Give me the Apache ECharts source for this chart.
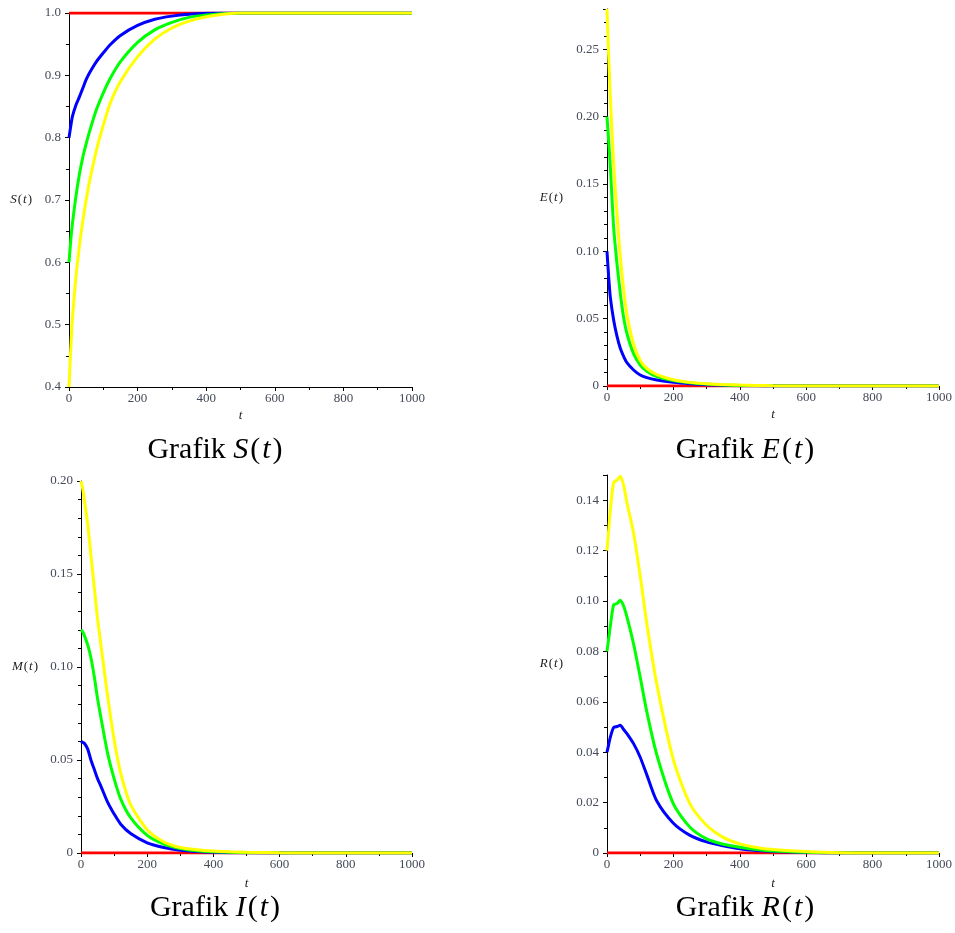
<!DOCTYPE html>
<html>
<head>
<meta charset="utf-8">
<title>Grafik S, E, I, R</title>
<script src="https://cdn.jsdelivr.net/npm/echarts@6/dist/echarts.min.js"></script>
<style>
  html, body { margin: 0; padding: 0; background: #fff; }
  #main { width: 955px; height: 933px; }
</style>
</head>
<body>
<div id="main"></div>
<script>
// waktu t (sama untuk semua kurva)
var tValues = [0, 5, 10, 20, 30, 40, 50, 60, 80, 100, 120, 150, 200, 250, 300, 350, 400, 450, 500, 600, 700, 800, 900, 1000];

// S(t)
var sRed    = [1,1,1,1,1,1,1,1,1,1,1,1,1,1,1,1,1,1,1,1,1,1,1,1];
var sBlue   = [0.80,0.818,0.834,0.852,0.865,0.879,0.893,0.904,0.922,0.936,0.949,0.964,0.98,0.99,0.995,0.998,0.9995,1,1,1,1,1,1,1];
var sGreen  = [0.60,0.635,0.662,0.705,0.74,0.768,0.79,0.81,0.845,0.872,0.895,0.922,0.953,0.973,0.985,0.993,0.997,0.999,1,1,1,1,1,1];
var sYellow = [0.40,0.46,0.51,0.575,0.625,0.665,0.70,0.73,0.78,0.82,0.855,0.89,0.93,0.958,0.976,0.987,0.994,0.998,1,1,1,1,1,1];

// E(t)
var eRed    = [0,0,0,0,0,0,0,0,0,0,0,0,0,0,0,0,0,0,0,0,0,0,0,0];
var eBlue   = [0.10,0.081,0.066,0.049,0.037,0.028,0.022,0.0173,0.0119,0.0082,0.0062,0.0045,0.0027,0.0016,0.0009,0.0005,0.0002,0.0001,0,0,0,0,0,0];
var eGreen  = [0.20,0.182,0.163,0.118,0.091,0.069,0.051,0.039,0.024,0.0156,0.011,0.007,0.004,0.0024,0.0014,0.0008,0.0004,0.0002,0.0001,0,0,0,0,0];
var eYellow = [0.28,0.245,0.215,0.165,0.128,0.096,0.072,0.053,0.031,0.019,0.013,0.0085,0.0047,0.0027,0.0016,0.0011,0.0007,0.0004,0.0002,0,0,0,0,0];

// M(t) / I(t)
var mRed    = [0,0,0,0,0,0,0,0,0,0,0,0,0,0,0,0,0,0,0,0,0,0,0,0];
var mBlue   = [0.06,0.0595,0.059,0.056,0.05,0.045,0.04,0.036,0.0275,0.021,0.0155,0.0105,0.0055,0.003,0.0015,0.0008,0.0004,0.0002,0.0001,0,0,0,0,0];
var mGreen  = [0.12,0.119,0.117,0.112,0.105,0.095,0.083,0.073,0.054,0.04,0.029,0.019,0.0095,0.0048,0.0024,0.0012,0.0007,0.0004,0.0002,0,0,0,0,0];
var mYellow = [0.20,0.196,0.19,0.177,0.16,0.143,0.126,0.112,0.085,0.061,0.043,0.026,0.0125,0.006,0.003,0.0018,0.0011,0.0007,0.0004,0.0001,0,0,0,0];

// R(t)
var rRed    = [0,0,0,0,0,0,0,0,0,0,0,0,0,0,0,0,0,0,0,0,0,0,0,0];
var rBlue   = [0.04,0.043,0.046,0.0498,0.0502,0.0507,0.049,0.0474,0.0434,0.038,0.031,0.0206,0.0118,0.007,0.0044,0.0029,0.0017,0.001,0.0006,0.0002,0,0,0,0];
var rGreen  = [0.08,0.085,0.09,0.0985,0.099,0.1003,0.098,0.0937,0.083,0.0698,0.056,0.039,0.0195,0.0102,0.0056,0.0035,0.0023,0.0014,0.0008,0.0003,0,0,0,0];
var rYellow = [0.12,0.128,0.136,0.147,0.148,0.1495,0.146,0.139,0.127,0.11,0.091,0.067,0.037,0.0195,0.011,0.0062,0.0036,0.0022,0.0014,0.0006,0.0001,0,0,0];

var xTicks = { min: 0, max: 1000, interval: 200 };
var lineColors = ['#ff0000', '#0000ff', '#00ff00', '#ffff00'];

var labelColor = '#454a58';
var serif = 'Liberation Serif, Times New Roman, serif';

// hideMax: batas atas sumbu bukan kelipatan interval, labelnya disembunyikan
var panels = [
  { grid: { left: 69, top: 13, width: 343, height: 374 }, yMin: 0.4, yMax: 1.0, yInt: 0.1, minor: 2, digits: 1, hideMax: false,
    yName: 'S', nameGap: 36, xGap: 22, caption: 'S', capX: 216, capY: 450, data: [sRed, sBlue, sGreen, sYellow] },
  { grid: { left: 607, top: 9, width: 335, height: 377 }, yMin: 0, yMax: 0.28, yInt: 0.05, minor: 5, digits: 2, hideMax: true,
    yName: 'E', nameGap: 43, xGap: 22, caption: 'E', capX: 746, capY: 450, data: [eRed, eBlue, eGreen, eYellow] },
  { grid: { left: 81, top: 481, width: 331, height: 372 }, yMin: 0, yMax: 0.20, yInt: 0.05, minor: 5, digits: 2, hideMax: false,
    yName: 'M', nameGap: 42, xGap: 24, caption: 'I', capX: 216, capY: 908, data: [mRed, mBlue, mGreen, mYellow] },
  { grid: { left: 607, top: 475, width: 335, height: 378 }, yMin: 0, yMax: 0.15, yInt: 0.02, minor: 2, digits: 2, hideMax: true,
    yName: 'R', nameGap: 43, xGap: 24, caption: 'R', capX: 746, capY: 908, data: [rRed, rBlue, rGreen, rYellow] }
];

function pairs(ys) {
  return tValues.map(function (t, i) { return [t, ys[i]]; });
}

var grids = [], xAxes = [], yAxes = [], series = [], graphics = [];

panels.forEach(function (p, k) {
  grids.push(p.grid);

  xAxes.push({
    type: 'value', gridIndex: k, min: xTicks.min, max: xTicks.max, interval: xTicks.interval,
    name: '{i|t}', nameLocation: 'middle', nameGap: p.xGap,
    nameTextStyle: { rich: { i: { fontFamily: serif, fontStyle: 'italic', fontSize: 13, color: '#222' } } },
    axisLine: { onZero: false, lineStyle: { color: '#000', width: 1 } },
    axisTick: { show: true, inside: false, length: 4, lineStyle: { color: '#000' } },
    minorTick: { show: true, splitNumber: 2, length: 3, lineStyle: { color: '#000' } },
    splitLine: { show: false },
    axisLabel: {
      color: labelColor, fontFamily: serif, fontSize: 13, margin: 5,
      formatter: function (v) { return String(v); }
    }
  });

  yAxes.push({
    type: 'value', gridIndex: k, min: p.yMin, max: p.yMax, interval: p.yInt,
    name: '{i|' + p.yName + '}{n|(}{i|t}{n|)}', nameLocation: 'middle', nameRotate: 0, nameGap: p.nameGap,
    nameTextStyle: {
      rich: {
        i: { fontFamily: serif, fontStyle: 'italic', fontSize: 13, color: '#222' },
        n: { fontFamily: serif, fontSize: 13, color: '#222', padding: [0, 1, 0, 1] }
      }
    },
    axisLine: { onZero: false, lineStyle: { color: '#000', width: 1 } },
    axisTick: { show: true, inside: false, length: 4, lineStyle: { color: '#000' } },
    minorTick: { show: true, splitNumber: p.minor, length: 3, lineStyle: { color: '#000' } },
    splitLine: { show: false },
    axisLabel: {
      color: labelColor, fontFamily: serif, fontSize: 13, margin: 8, showMaxLabel: !p.hideMax,
      formatter: function (v) { return v === 0 ? '0' : v.toFixed(p.digits); }
    }
  });

  p.data.forEach(function (ys, j) {
    series.push({
      type: 'line', xAxisIndex: k, yAxisIndex: k, data: pairs(ys),
      showSymbol: false, smooth: 0.25, z: 2 + j,
      lineStyle: { color: lineColors[j], width: 3 },
      itemStyle: { color: lineColors[j] }
    });
  });

  graphics.push({
    type: 'text', x: p.capX, y: p.capY,
    style: {
      text: '{n|Grafik }{i|' + p.caption + '}{p|(}{i|t}{p|)}',
      align: 'center', verticalAlign: 'middle',
      rich: {
        n: { fontFamily: serif, fontSize: 30, fill: '#000' },
        p: { fontFamily: serif, fontSize: 30, fill: '#000', padding: [0, 2, 0, 2] },
        i: { fontFamily: serif, fontStyle: 'italic', fontSize: 30, fill: '#000' }
      }
    }
  });
});

var chart = echarts.init(document.getElementById('main'), null, { renderer: 'canvas' });
chart.setOption({
  animation: false,
  backgroundColor: '#ffffff',
  grid: grids,
  xAxis: xAxes,
  yAxis: yAxes,
  series: series,
  graphic: graphics
});
</script>
</body>
</html>
